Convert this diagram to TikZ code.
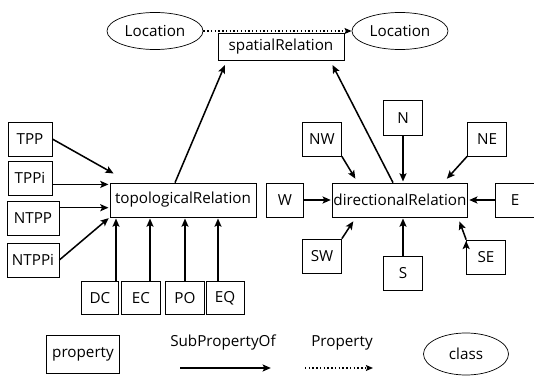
\documentclass[tikz,border=0pt]{standalone}
\usepackage{fontspec}
\setmainfont{Open Sans}
\usetikzlibrary{shapes.geometric, arrows.meta}
\tikzset{
x=0.3mm, y=0.3mm, % one unit is one pixel of the original
every node/.style={font=\fontsize{13}{15}\selectfont},
prop/.style={draw, line width=0.6pt, rectangle, minimum width=11.7mm, minimum height=10.2mm, inner sep=1pt}, % property boxes
class/.style={draw, line width=0.6pt, ellipse, minimum width=28.8mm, minimum height=11.1mm, inner sep=1pt}, % class ellipses
sub/.style={-{Stealth[length=7pt, width=6pt, inset=1.5pt]}, line width=1.3pt, shorten >=1pt}, % SubPropertyOf
rel/.style={-{Stealth[length=6pt, width=5pt, inset=1pt]}, dotted, line width=1.2pt}, % Property
}
\begin{document}
\begin{tikzpicture}
\useasboundingbox (0,0) rectangle (534,377);
% top: the relation between two locations
\node[class] (loc1) at (155,346) {Location};
\node[class] (loc2) at (400,346) {Location};
\node[prop, minimum width=37.8mm, minimum height=8.1mm] (spatial) at (281,330) {spatialRelation};
% topological part
\node[prop, minimum width=43.8mm] (topo) at (183,177) {topologicalRelation};
\node[prop, minimum width=13.2mm] (TPP) at (30,238) {TPP};
\node[prop, minimum width=13.2mm] (TPPi) at (30,199) {TPPi};
\node[prop, minimum width=15.6mm] (NTPP) at (33,159) {NTPP};
\node[prop, minimum width=15.6mm] (NTPPi) at (33,117) {NTPPi};
\node[prop, minimum width=11.1mm, minimum height=9.9mm] (DC) at (100,79) {DC};
\node[prop, minimum height=9.9mm] (EC) at (141,79) {EC};
\node[prop, minimum height=9.9mm] (PO) at (185,79) {PO};
\node[prop, minimum width=11.4mm, minimum height=9.9mm] (EQ) at (225,79) {EQ};
% directional part
\node[prop, minimum width=40.2mm] (dir) at (400,177) {directionalRelation};
\node[prop, minimum height=10.5mm] (N) at (403,259) {N};
\node[prop] (NW) at (322,238) {NW};
\node[prop] (NE) at (487,238) {NE};
\node[prop, minimum width=11.1mm] (W) at (285,177) {W};
\node[prop] (E) at (515,177) {E};
\node[prop] (SW) at (322,121) {SW};
\node[prop] (S) at (403,104) {S};
\node[prop] (SE) at (486,120) {SE};
% legend
\node[prop, minimum width=21.9mm, minimum height=11.4mm] (lprop) at (83,23) {property};
\node[class, minimum width=25.5mm, minimum height=12.6mm] (lclass) at (466,23) {class};
\coordinate (s1) at (180,9);
\coordinate (s2) at (272,9);
\coordinate (p1) at (305,9);
\coordinate (p2) at (373,9);
\node (lsub) at (223,34) {SubPropertyOf};
\node (lrel) at (342,34) {Property};

\draw[rel] (loc1) -- (loc2);
\draw[sub] (s1) -- (s2);
\draw[rel] (p1) -- (p2);

\draw[sub]
    ([xshift=-2.4mm]topo.north) edge[shorten >=4pt] ([shift={(9,0)}]spatial.south west)
    ([xshift=-2.1mm]dir.north) edge[shorten >=4pt] ([shift={(-14,0)}]spatial.south east)
    (TPP.east) edge[shorten >=2pt] ([shift={(6,8)}]topo.north west)
    (TPPi.east |- topo.168) edge (topo.168)
    (NTPP.east |- topo.186) edge (topo.186)
    (NTPPi.east) edge (topo.south west)
    ([xshift=4.8mm]DC.north) edge ([xshift=4.8mm]DC.north |- topo.south)
    ([xshift=2.7mm]EC.north) edge ([xshift=2.7mm]EC.north |- topo.south)
    (PO.north) edge (PO.north |- topo.south)
    ([xshift=-2.1mm]EQ.north) edge ([xshift=-2.1mm]EQ.north |- topo.south)
    (N.south) edge (N.south |- dir.north)
    (NW.south east) edge ([shift={(24,3)}]dir.north west)
    (NE.south west) edge ([shift={(-22,3)}]dir.north east)
    (W.east) edge (dir.west)
    (E.west) edge (dir.east)
    (SW.north east) edge ([shift={(22,-3)}]dir.south west)
    (S.north) edge (S.north |- dir.south)
    (SE.north west) edge ([shift={(-9,-3)}]dir.south east)
    ;
\end{tikzpicture}
\end{document}
